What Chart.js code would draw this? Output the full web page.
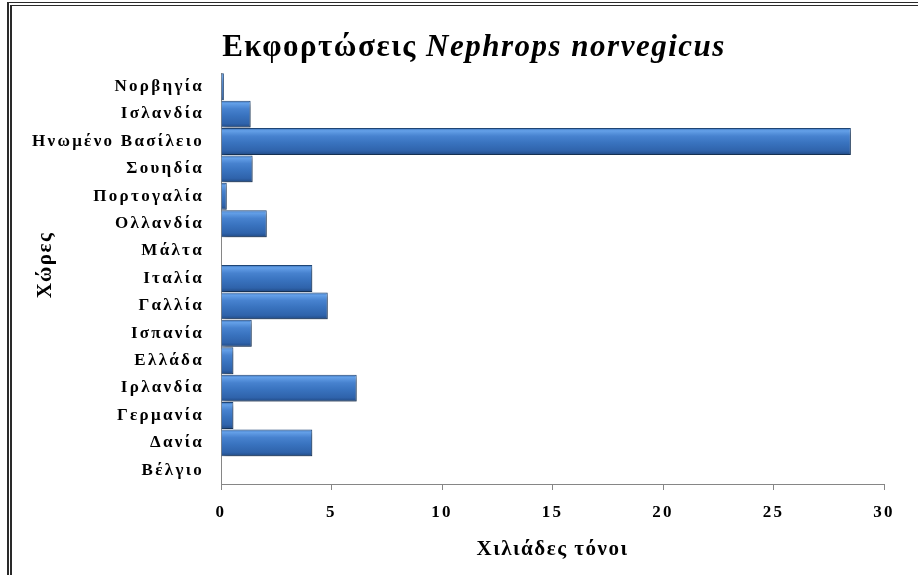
<!DOCTYPE html>
<html>
<head>
<meta charset="utf-8">
<script src="https://cdn.jsdelivr.net/npm/chart.js@4/dist/chart.umd.min.js"></script>
<style>
	body { margin: 0; background: #fff; overflow: hidden; }
	.chart { position: relative; width: 918px; height: 575px; }
	.chart__frame {
		position: absolute; left: 7px; top: 2px; width: 1200px; height: 1200px;
		border-left: 5px double #2a2a2a; border-top: 4px double #2a2a2a;
		pointer-events: none;
	}
</style>
</head>
<body>
<div class="chart">
	<canvas class="chart__canvas" width="918" height="575"></canvas>
	<div class="chart__frame"></div>
</div>
<script>
const countries = [
	"Νορβηγία", "Ισλανδία", "Ηνωμένο Βασίλειο", "Σουηδία", "Πορτογαλία",
	"Ολλανδία", "Μάλτα", "Ιταλία", "Γαλλία", "Ισπανία",
	"Ελλάδα", "Ιρλανδία", "Γερμανία", "Δανία", "Βέλγιο",
];
const landings = [
	0.13, 1.34, 28.5, 1.43, 0.26,
	2.07, 0, 4.13, 4.83, 1.39,
	0.56, 6.14, 0.56, 4.13, 0,
];
const xTicks = [0, 5, 10, 15, 20, 25, 30];

const titleMain = "Εκφορτώσεις ";
const titleSpecies = "Nephrops norvegicus";
const xTitle = "Χιλιάδες τόνοι";
const yTitle = "Χώρες";

const serif = "'Liberation Serif', 'DejaVu Serif', serif";
const barPct = 0.98;

function barFill(c) {
	const chart = c.chart;
	const ys = chart.scales.y;
	if (c.type !== "data" || !ys || !chart.chartArea) return "#3b76c2";
	const yc = ys.getPixelForValue(c.dataIndex);
	const half = (ys.height / countries.length) * barPct / 2;
	const g = chart.ctx.createLinearGradient(0, yc - half, 0, yc + half);
	g.addColorStop(0, "#3a71b8");
	g.addColorStop(0.1, "#64a0e8");
	g.addColorStop(0.3, "#4782cf");
	g.addColorStop(0.55, "#3973bf");
	g.addColorStop(0.85, "#2f63ab");
	g.addColorStop(1, "#214a84");
	return g;
}

const barShadow = {
	id: "barShadow",
	beforeDatasetsDraw(chart) {
		const ctx = chart.ctx;
		ctx.save();
		ctx.shadowColor = "rgba(0,0,0,0.35)";
		ctx.shadowOffsetX = 2;
		ctx.shadowOffsetY = 3;
		ctx.shadowBlur = 4;
	},
	afterDatasetsDraw(chart) {
		chart.ctx.restore();
	},
};

const spacing = {
	id: "spacing",
	beforeDraw(chart) { chart.ctx.letterSpacing = "2.3px"; },
	afterDraw(chart) { chart.ctx.letterSpacing = "0px"; },
};

const titles = {
	id: "titles",
	afterDraw(chart) {
		const ctx = chart.ctx;
		const area = chart.chartArea;
		ctx.save();
		ctx.fillStyle = "#000";
		ctx.letterSpacing = "1.5px";

		// main title, species name in italics
		ctx.textBaseline = "alphabetic";
		ctx.textAlign = "left";
		ctx.font = "bold 31px " + serif;
		const w1 = ctx.measureText(titleMain).width;
		ctx.font = "italic bold 31px " + serif;
		const w2 = ctx.measureText(titleSpecies).width;
		let x = 474 - (w1 + w2) / 2;
		ctx.font = "bold 31px " + serif;
		ctx.fillText(titleMain, x, 56);
		ctx.font = "italic bold 31px " + serif;
		ctx.fillText(titleSpecies, x + w1, 56);

		// axis titles
		ctx.font = "bold 21px " + serif;
		ctx.textAlign = "center";
		ctx.textBaseline = "middle";
		ctx.fillText(xTitle, (area.left + area.right) / 2, 550);

		ctx.translate(46, 265);
		ctx.rotate(-Math.PI / 2);
		ctx.fillText(yTitle, 0, 0);
		ctx.restore();
	},
};

const config = {
	type: "bar",
	data: {
		labels: countries,
		datasets: [
			{
				data: landings,
				backgroundColor: barFill,
				borderColor: "#1f4677",
				borderWidth: 1,
				barPercentage: barPct,
				categoryPercentage: 1,
			},
		],
	},
	options: {
		indexAxis: "y",
		responsive: false,
		animation: false,
		layout: { padding: { top: 73, right: 34, left: 0, bottom: 0 } },
		plugins: {
			legend: { display: false },
			tooltip: { enabled: false },
		},
		scales: {
			y: {
				afterFit: (s) => { s.width = 221; },
				grid: { display: false },
				border: { color: "#868686" },
				ticks: {
					color: "#000",
					padding: 9,
					font: { family: serif, size: 17, weight: "bold" },
				},
			},
			x: {
				min: 0,
				max: 30,
				afterFit: (s) => { s.height = 91; },
				afterBuildTicks: (s) => { s.ticks = xTicks.map((v) => ({ value: v })); },
				grid: { drawOnChartArea: false, tickLength: 6, color: "#868686" },
				border: { color: "#868686" },
				ticks: {
					color: "#000",
					padding: 12,
					font: { family: serif, size: 17, weight: "bold" },
				},
			},
		},
	},
	plugins: [barShadow, spacing, titles],
};

new Chart(document.querySelector(".chart__canvas"), config);
</script>
</body>
</html>
